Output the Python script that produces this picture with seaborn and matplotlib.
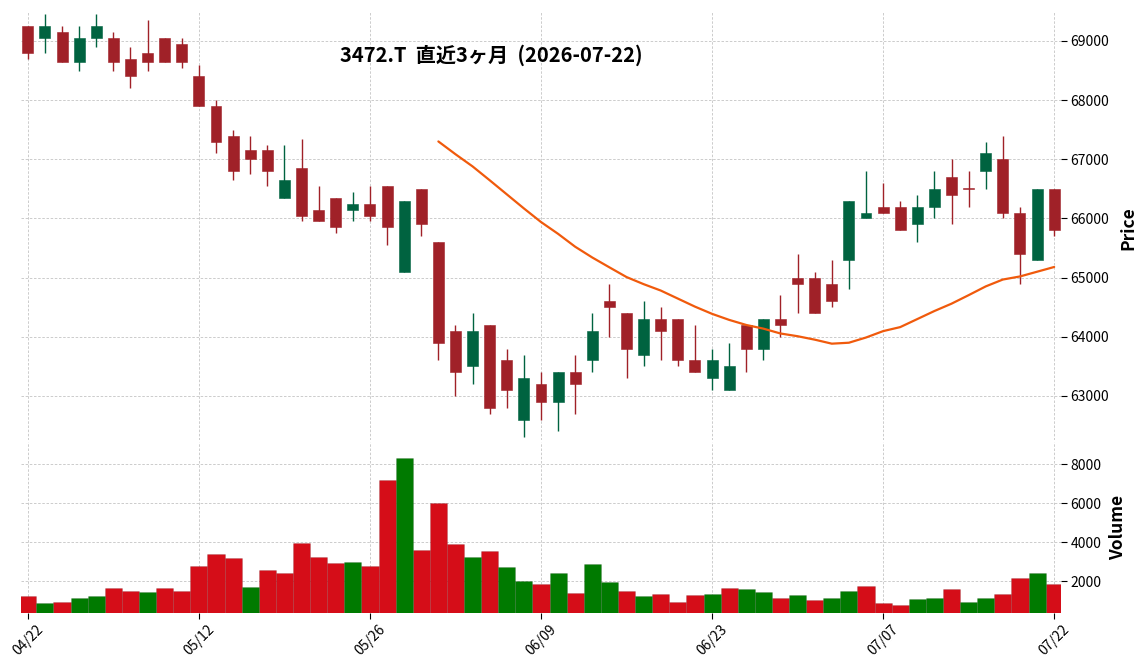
import numpy as np
import pandas as pd
import matplotlib
matplotlib.use("Agg")
import matplotlib.pyplot as plt
import seaborn as sns

# ---- data ----
opens = [69250, 69050, 69150, 68650, 69050, 69050, 68700, 68800, 69050, 68950,
         68400, 67900, 67400, 67150, 67150, 66350, 66850, 66150, 66350, 66150,
         66250, 66550, 65100, 66500, 65600, 64100, 63500, 64200, 63600, 62600,
         63200, 62900, 63400, 63600, 64600, 64400, 63700, 64300, 64300, 63600,
         63300, 63100, 64200, 63800, 64300, 65000, 65000, 64900, 65300, 66000,
         66200, 66200, 65900, 66200, 66700, 66500, 66800, 67000, 66100, 65300,
         66500]
highs = [69250, 69450, 69250, 69250, 69450, 69150, 68900, 69350, 69050, 69050,
         68600, 68000, 67500, 67400, 67250, 67250, 67350, 66550, 66350, 66450,
         66550, 66550, 66300, 66500, 65600, 64200, 64400, 64200, 63800, 63700,
         63400, 63400, 63700, 64400, 64900, 64400, 64600, 64500, 64300, 64200,
         63800, 63900, 64200, 64300, 64700, 65400, 65100, 65300, 66300, 66800,
         66600, 66300, 66400, 66800, 67000, 66800, 67300, 67400, 66200, 66500,
         66500]
lows = [68700, 68800, 68650, 68500, 68900, 68500, 68200, 68500, 68650, 68550,
        67900, 67100, 66650, 66750, 66550, 66350, 65950, 65950, 65750, 65950,
        65950, 65550, 65100, 65700, 63600, 63000, 63200, 62700, 62800, 62300,
        62600, 62400, 62700, 63400, 64000, 63300, 63500, 63600, 63500, 63400,
        63100, 63100, 63400, 63600, 64000, 64400, 64400, 64500, 64800, 66000,
        66100, 65800, 65600, 66000, 65900, 66200, 66500, 66000, 64900, 65300,
        65700]
closes = [68800, 69250, 68650, 69050, 69250, 68650, 68400, 68650, 68650, 68650,
          67900, 67300, 66800, 67000, 66800, 66650, 66050, 65950, 65850, 66250,
          66050, 65850, 66300, 65900, 63900, 63400, 64100, 62800, 63100, 63300,
          62900, 63400, 63200, 64100, 64500, 63800, 64300, 64100, 63600, 63400,
          63600, 63500, 63800, 64300, 64200, 64900, 64400, 64600, 66300, 66100,
          66100, 65800, 66200, 66500, 66400, 66500, 67100, 66100, 65400, 66500,
          65800]
volumes = [1240, 880, 930, 1140, 1240, 1660, 1500, 1450, 1660, 1500,
           2790, 3410, 3160, 1710, 2590, 2430, 3930, 3210, 2900, 3000,
           2790, 7190, 8330, 3570, 6000, 3880, 3210, 3520, 2740, 2020,
           1860, 2430, 1400, 2850, 1970, 1500, 1240, 1350, 930, 1290,
           1350, 1660, 1600, 1450, 1140, 1290, 1030, 1140, 1500, 1760,
           880, 780, 1090, 1140, 1600, 930, 1140, 1350, 2170, 2430,
           1860]
tick_positions = [0, 10, 20, 30, 40, 50, 60]
tick_labels = ["04/22", "05/12", "05/26", "06/09", "06/23", "07/07", "07/22"]
price_ticks = [63000, 64000, 65000, 66000, 67000, 68000, 69000]
volume_ticks = [2000, 4000, 6000, 8000]
title = "3472.T  直近3ヶ月  (2026-07-22)"
ma_window = 25

# ---- style ----
UP, DOWN = "#006340", "#A02128"
VUP, VDOWN = "#007a00", "#d50d18"
MA_COLOR = "#F05A0C"
GRID = "#c4c4c4"

sns.set_theme(style="white")
plt.rcParams["font.family"] = ["Noto Sans CJK JP", "DejaVu Sans"]
plt.rcParams["text.color"] = "black"
plt.rcParams["axes.labelcolor"] = "black"

df = pd.DataFrame({"open": opens, "high": highs, "low": lows,
                   "close": closes, "volume": volumes})
df["idx"] = np.arange(len(df))
df["ma"] = df["close"].rolling(ma_window).mean()
df["cdir"] = np.where(df["close"] > df["open"], "up", "down")
prev = df["close"].shift(1)
vdir = np.where(df["close"] > prev, "up", "down")
vdir[0] = df["cdir"].iloc[0]
df["vdir"] = vdir

fig = plt.figure(figsize=(11.45, 6.7), dpi=100)
ax = fig.add_axes([0.01834, 0.3433, 0.9083, 0.6403])
axv = fig.add_axes([0.01834, 0.08507, 0.9083, 0.2552])

# candles
ccol = [UP if d == "up" else DOWN for d in df["cdir"]]
ax.vlines(df["idx"], df["low"], df["high"], colors=ccol, linewidth=1.0, zorder=3)
body_bottom = np.minimum(df["open"], df["close"])
body_h = np.maximum(np.abs(df["close"] - df["open"]), 15)
ax.bar(df["idx"], body_h, bottom=body_bottom, width=0.64, color=ccol,
       edgecolor=ccol, linewidth=0.4, zorder=4)

# moving average
sns.lineplot(data=df.dropna(subset=["ma"]), x="idx", y="ma", ax=ax,
             color=MA_COLOR, linewidth=1.6, zorder=5)

# volume
sns.barplot(data=df, x="idx", y="volume", hue="vdir",
            palette={"up": VUP, "down": VDOWN}, native_scale=True,
            dodge=False, width=1.0, errorbar=None, legend=False,
            saturation=1, edgecolor=(0, 0, 0, 0.12), linewidth=0.6, ax=axv)

for a in (ax, axv):
    a.set_xlim(-0.4, 60.4)
    a.grid(True, linestyle=(0, (3, 2)), color=GRID, linewidth=0.6)
    a.set_axisbelow(True)
    for sp in a.spines.values():
        sp.set_visible(False)
    a.yaxis.tick_right()
    a.yaxis.set_label_position("right")
    a.tick_params(axis="y", which="major", left=False, right=True,
                  direction="out", length=4, width=0.8, color="black",
                  labelsize=10, labelcolor="black", pad=3)
    a.set_xticks(tick_positions)

ax.set_ylim(62256, 69507)
ax.set_yticks(price_ticks)
ax.set_yticklabels([str(v) for v in price_ticks])
ax.tick_params(axis="x", bottom=False, labelbottom=False)
ax.set_xlabel("")
ax.set_ylabel("Price", fontsize=12.5, fontweight="bold", color="black")
ax.yaxis.set_label_coords(1.056, 0.494)

axv.set_ylim(359, 9128)
axv.set_yticks(volume_ticks)
axv.set_yticklabels([str(v) for v in volume_ticks])
axv.set_xticks(tick_positions)
axv.set_xticklabels(tick_labels, rotation=45, ha="center")
axv.tick_params(axis="x", bottom=True, direction="out", length=4, width=0.8,
                color="black", labelsize=10, labelcolor="black", pad=3)
axv.set_xlim(-0.4, 60.4)
axv.set_xlabel("")
axv.set_ylabel("Volume", fontsize=12.5, fontweight="bold", color="black")
axv.yaxis.set_label_coords(1.046, 0.5)

fig.text(0.4288, 0.918, title, ha="center", va="center",
         fontsize=14.5, fontweight="bold", color="black")

fig.savefig("out.png", dpi=100)
